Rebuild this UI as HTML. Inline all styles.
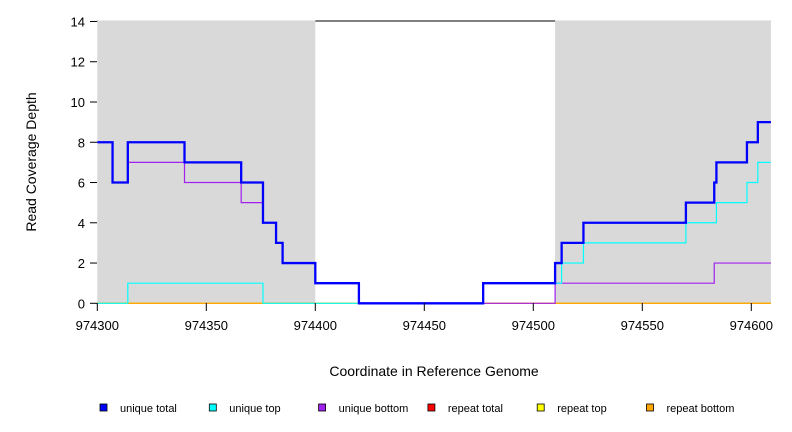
<!DOCTYPE html>
<html><head><meta charset="utf-8"><style>
body{margin:0;background:#fff}
svg{display:block;font-family:"Liberation Sans",sans-serif}
</style></head><body>
<svg width="792" height="432" id="c">
<line x1="97" y1="21" x2="771" y2="21" stroke="#000"/>
<g id="shade"></g>
<g id="lines"></g>
<g id="axes"></g>
<text x="36" y="162" transform="rotate(-90 36 162)" text-anchor="middle" font-size="14">Read Coverage Depth</text>
<text x="434" y="376" text-anchor="middle" font-size="14">Coordinate in Reference Genome</text>
<g id="legend"></g>
</svg>
<script>
const breaks=[974300,974307,974314,974340,974366,974376,974382,974385,974400,974420,974477,974510,974513,974523,974570,974583,974584,974598,974603];
const uniqueTotal=[8,6,8,7,6,4,3,2,1,0,1,2,3,4,5,6,7,8,9];
const uniqueTop=[0,0,1,1,1,0,0,0,0,0,1,1,2,3,4,4,5,6,7];
const uniqueBottom=[8,6,7,6,5,4,3,2,1,0,0,1,1,1,1,2,2,2,2];
const repeatTotal=[0,0,0,0,0,0,0,0,0,0,0,0,0,0,0,0,0,0,0];
const xTicks=[974300,974350,974400,974450,974500,974550,974600];
const yTicks=[0,2,4,6,8,10,12,14];
const shadeRegions=[[974300,974400],[974510,974609]];
const xMin=974300,xMax=974609;
const X=v=>97.3+(v-xMin)*2.18;
const Y=v=>303.3-v*20.13;
const NS='http://www.w3.org/2000/svg';
function mk(t,a,p){const e=document.createElementNS(NS,t);for(const k in a)e.setAttribute(k,a[k]);p.appendChild(e);return e;}
const sh=document.getElementById('shade');
shadeRegions.forEach(r=>{const e=mk('rect',{x:X(r[0]),y:Y(14)-1,width:X(r[1])-X(r[0]),height:Y(0)-Y(14)+1,fill:'#d9d9d9'},sh);

});
function step(vals){let d='';for(let i=0;i<breaks.length;i++){const x0=X(breaks[i]),x1=X(i+1<breaks.length?breaks[i+1]:xMax);d+=(i?'L':'M')+x0+','+Y(vals[i])+'L'+x1+','+Y(vals[i]);}return d;}
const L=document.getElementById('lines');
[[repeatTotal,'#ff0000',1.2,'repeat-total-line'],[repeatTotal,'#ffff00',1.2,'repeat-top-line'],[repeatTotal,'#ffa500',1.2,'repeat-bottom-line'],[uniqueBottom,'#a020f0',1.2,'unique-bottom-line'],[uniqueTop,'#00ffff',1.2,'unique-top-line'],[uniqueTotal,'#0000ff',2.3,'unique-total-line']].forEach(s=>{
const e=mk('path',{d:step(s[0]),fill:'none',stroke:s[1],'stroke-width':s[2]},L);

});
const A=document.getElementById('axes');
yTicks.forEach(v=>{mk('line',{x1:90,x2:97,y1:Y(v),y2:Y(v),stroke:'#000'},A);
const t=mk('text',{x:85,y:Y(v)+5,'font-size':13,'text-anchor':'end'},A);t.textContent=v;

});
xTicks.forEach(v=>{mk('line',{x1:X(v),x2:X(v),y1:303,y2:311,stroke:'#000'},A);
const t=mk('text',{x:X(v),y:330,'font-size':13,'text-anchor':'middle'},A);t.textContent=v;

});
const legendLabels=['unique total','unique top','unique bottom','repeat total','repeat top','repeat bottom'];
const legendColors=['#0000ff','#00ffff','#a020f0','#ff0000','#ffff00','#ffa500'];
const G=document.getElementById('legend');
legendLabels.forEach((l,i)=>{const x=100+i*109.3;
const r=mk('rect',{x:x,y:404,width:7,height:7,fill:legendColors[i],stroke:'#000','stroke-width':0.8},G);


const t=mk('text',{x:x+20,y:412,'font-size':11},G);t.textContent=l;

});
</script>
</body></html>
